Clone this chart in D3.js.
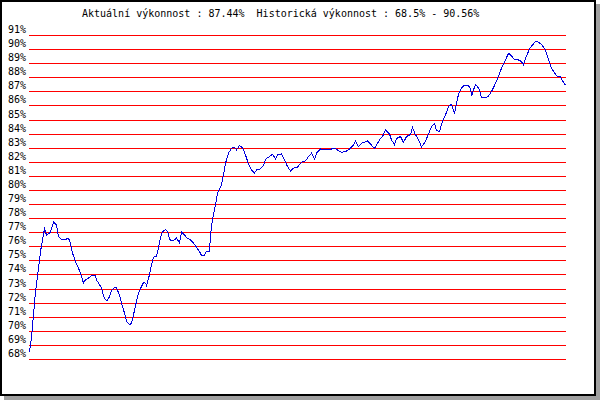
<!DOCTYPE html>
<html>
<head>
<meta charset="utf-8">
<script src="https://cdn.jsdelivr.net/npm/d3@7"></script>
<style>
  body { margin: 0; background: #fff; }
  #container { width: 600px; height: 400px; }
</style>
</head>
<body>
<div id="container"></div>
<script>
// hodnoty (den = poradi bodu, vykonnost v %)
let den = [0, 2, 4, 6, 9, 11, 13, 15, 16, 17, 21, 24, 27, 29, 32, 35, 39, 41, 43, 46,
  49, 52, 54, 56, 59, 62, 66, 67, 70, 72, 74, 76, 78, 80, 82, 85, 87, 90, 92, 95,
  97, 100, 102, 104, 107, 109, 112, 114, 116, 117, 120, 122, 124, 127, 129, 131, 133, 136, 138, 140,
  142, 145, 147, 150, 152, 155, 157, 161, 164, 167, 170, 172, 175, 176, 180, 181, 183, 186, 188, 192,
  194, 196, 199, 202, 205, 207, 210, 213, 216, 219, 222, 225, 227, 231, 234, 236, 240, 243, 246, 248,
  252, 255, 258, 261, 264, 268, 272, 276, 279, 282, 285, 287, 291, 296, 301, 305, 308, 312, 316, 321,
  324, 326, 329, 332, 338, 341, 345, 348, 351, 353, 356, 360, 362, 365, 367, 371, 374, 377, 381, 383,
  386, 389, 392, 396, 399, 402, 405, 407, 410, 413, 416, 419, 422, 425, 427, 429, 432, 434, 439, 441,
  442, 444, 446, 448, 450, 452, 456, 459, 462, 466, 469, 472, 476, 479, 482, 485, 489, 492, 494, 496,
  500, 503, 506, 509, 512, 516, 519, 522, 526, 528, 531, 533, 536];

let vykonnost = [68.50, 69.49, 71.14, 72.79, 74.45, 75.63, 76.46, 77.24, 77.05, 76.77, 77.01, 77.72, 77.52, 76.70, 76.46, 76.46, 76.58, 76.23, 75.52, 74.92,
  74.45, 73.86, 73.39, 73.62, 73.74, 73.91, 73.93, 73.62, 73.27, 73.04, 72.44, 72.21, 72.16, 72.44, 72.84, 73.08, 73.04, 72.56, 71.97, 71.26,
  70.67, 70.43, 70.55, 71.14, 72.09, 72.68, 73.15, 73.43, 73.39, 73.22, 73.98, 74.69, 75.23, 75.28, 75.91, 76.58, 77.05, 77.17, 77.05, 76.53,
  76.39, 76.46, 76.58, 76.23, 77.01, 76.82, 76.62, 76.46, 76.23, 75.94, 75.63, 75.35, 75.35, 75.59, 75.63, 76.82, 77.88, 78.94, 79.77, 80.36,
  81.07, 81.90, 82.61, 82.96, 83.04, 82.84, 83.15, 83.01, 82.49, 81.83, 81.43, 81.19, 81.43, 81.50, 81.73, 82.18, 82.37, 82.54, 82.21, 82.49,
  82.56, 82.13, 81.66, 81.35, 81.55, 81.62, 81.97, 82.06, 82.37, 82.61, 82.18, 82.61, 82.91, 82.84, 82.89, 82.96, 82.84, 82.68, 82.72, 82.96,
  83.20, 83.48, 83.08, 83.32, 83.48, 83.25, 82.96, 83.32, 83.66, 83.79, 84.26, 83.98, 83.55, 83.22, 83.65, 83.80, 83.38, 83.79, 83.94, 84.44,
  83.91, 83.59, 83.06, 83.45, 83.98, 84.50, 84.72, 84.23, 84.14, 84.90, 85.33, 85.91, 86.09, 85.40, 86.16, 86.79, 87.22, 87.38, 87.38, 87.22,
  86.67, 87.10, 87.50, 87.33, 87.10, 86.55, 86.55, 86.67, 86.98, 87.57, 88.09, 88.64, 89.23, 89.70, 89.53, 89.23, 89.23, 89.11, 88.87, 89.35,
  90.01, 90.29, 90.56, 90.48, 90.34, 89.94, 89.23, 88.64, 88.21, 88.04, 88.04, 87.74, 87.44];

let osaY = [68, 69, 70, 71, 72, 73, 74, 75, 76, 77, 78, 79, 80, 81, 82, 83, 84, 85, 86, 87, 88, 89, 90, 91];

let aktualni = "87.44%";
let historicka = ["68.5%", "90.56%"];

let width = 600,
    height = 400;

let svg = d3.select("#container")
  .append("svg")
  .attr("width", width)
  .attr("height", height)
  .style("display", "block");

drawFrame(svg);

let x = d3.scaleLinear()
  .domain([0, 536])
  .range([29.5, 565.5]);

let y = d3.scaleLinear()
  .domain([68, 91])
  .range([359, 35]);

drawGrid(svg, y);
drawLine(svg, x, y);

// titulek nahore
svg.append("text")
  .attr("x", 82)
  .attr("y", 17)
  .attr("font-family", "'DejaVu Sans Mono', monospace")
  .attr("font-size", "10px")
  .attr("fill", "#000")
  .style("white-space", "pre")
  .text("Aktuální výkonnost : " + aktualni + "  Historická výkonnost : " + historicka[0] + " - " + historicka[1]);

function drawFrame(svg) {
  svg.append("rect")
    .attr("width", width)
    .attr("height", height)
    .attr("fill", "#fff");

  // stin
  svg.append("rect")
    .attr("x", 4)
    .attr("y", 4)
    .attr("width", 596)
    .attr("height", 396)
    .attr("fill", "#a0a0a0");

  svg.append("rect")
    .attr("x", 1)
    .attr("y", 1)
    .attr("width", 594)
    .attr("height", 394)
    .attr("fill", "#fff")
    .attr("stroke", "#000")
    .attr("stroke-width", 2)
    .attr("shape-rendering", "crispEdges");
}

function drawGrid(svg, y) {
  let axis = d3.axisLeft(y)
    .tickValues(osaY)
    .tickSize(-537)
    .tickPadding(3)
    .tickFormat(function(d) { return d + "%"; });

  let g = svg.append("g")
    .attr("class", "grid")
    .attr("transform", "translate(29,0)")
    .call(axis);

  g.select(".domain").remove();

  g.selectAll(".tick line")
    .attr("stroke", "#ff0000")
    .attr("shape-rendering", "crispEdges");

  g.selectAll(".tick text")
    .attr("y", -2.5)
    .attr("dy", 0)
    .attr("fill", "#000")
    .attr("font-family", "'DejaVu Sans Mono', monospace")
    .attr("font-size", "10px");
}

function drawLine(svg, x, y) {
  let line = d3.line()
    .x(function(d, i) { return x(den[i]); })
    .y(function(d) { return y(d); });

  svg.append("path")
    .datum(vykonnost)
    .attr("d", line)
    .attr("fill", "none")
    .attr("stroke", "#0000dd")
    .attr("stroke-width", 1)
    .attr("shape-rendering", "crispEdges");
}
</script>
</body>
</html>
